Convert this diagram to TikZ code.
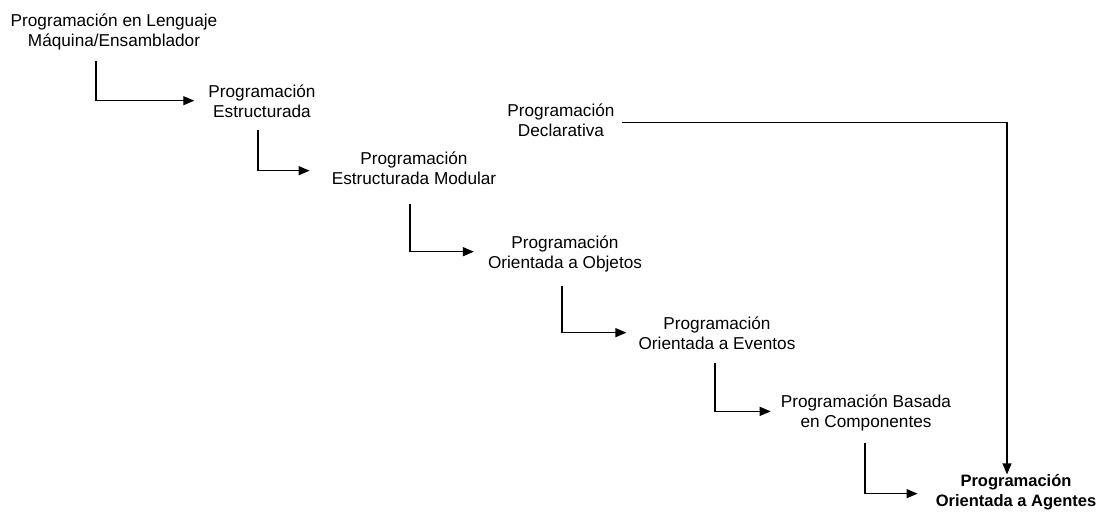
\documentclass[tikz,border=0pt]{standalone}
\usepackage{fontspec}
\setmainfont{Liberation Sans}
\usetikzlibrary{arrows.meta}
\begin{document}
\begin{tikzpicture}[x=1pt,y=-1pt,
  stage/.style={align=center,inner sep=0pt,text depth=0pt,anchor=base,
    font=\fontsize{17.2}{20}\selectfont},
  final/.style={stage,font=\fontsize{16.5}{20}\selectfont\bfseries},
  conn/.style={line width=1.3pt,-{Triangle[length=11pt,width=9pt]}}]
\useasboundingbox (0,0) rectangle (1099,512);

% paradigm stages, placed by the baseline of their last line
\node[stage] (lm)   at (114,46)    {Programación en Lenguaje\\Máquina/Ensamblador};
\node[stage] (est)  at (262,117)   {Programación\\Estructurada};
\node[stage] (mod)  at (414,184)   {Programación\\Estructurada Modular};
\node[stage] (decl) at (561,136)   {Programación\\Declarativa};
\node[stage] (poo)  at (565,268)   {Programación\\Orientada a Objetos};
\node[stage] (eve)  at (717,349)   {Programación\\Orientada a Eventos};
\node[stage] (comp) at (866,427.7) {Programación Basada\\en Componentes};
\node[final] (ag)   at (1016,506.7){Programación\\Orientada a Agentes};

% elbow connectors: down from one stage, then right into the next
\draw[conn] ([xshift=-18pt,yshift=-15pt]lm.south) |- ([xshift=-14pt]est.west);
\draw[conn] ([xshift=-4pt,yshift=-13pt]est.south) |- ([xshift=-22pt,yshift=-3pt]mod.west);
\draw[conn] ([xshift=-4pt,yshift=-20pt]mod.south) |- ([xshift=-14pt]poo.west);
\draw[conn] ([xshift=-3pt,yshift=-18pt]poo.south) |- ([xshift=-12pt]eve.west);
\draw[conn] ([xshift=-2pt,yshift=-14pt]eve.south) |- ([xshift=-10pt]comp.west);
\draw[conn] ([xshift=-1pt,yshift=-15pt]comp.south) |- ([xshift=-18pt,yshift=-3pt]ag.west);

% declarative branch: right along the top, then down to the last stage
\draw[conn] ([xshift=7pt,yshift=-3pt]decl.east) -| ([xshift=-9pt]ag.north);
\end{tikzpicture}
\end{document}
